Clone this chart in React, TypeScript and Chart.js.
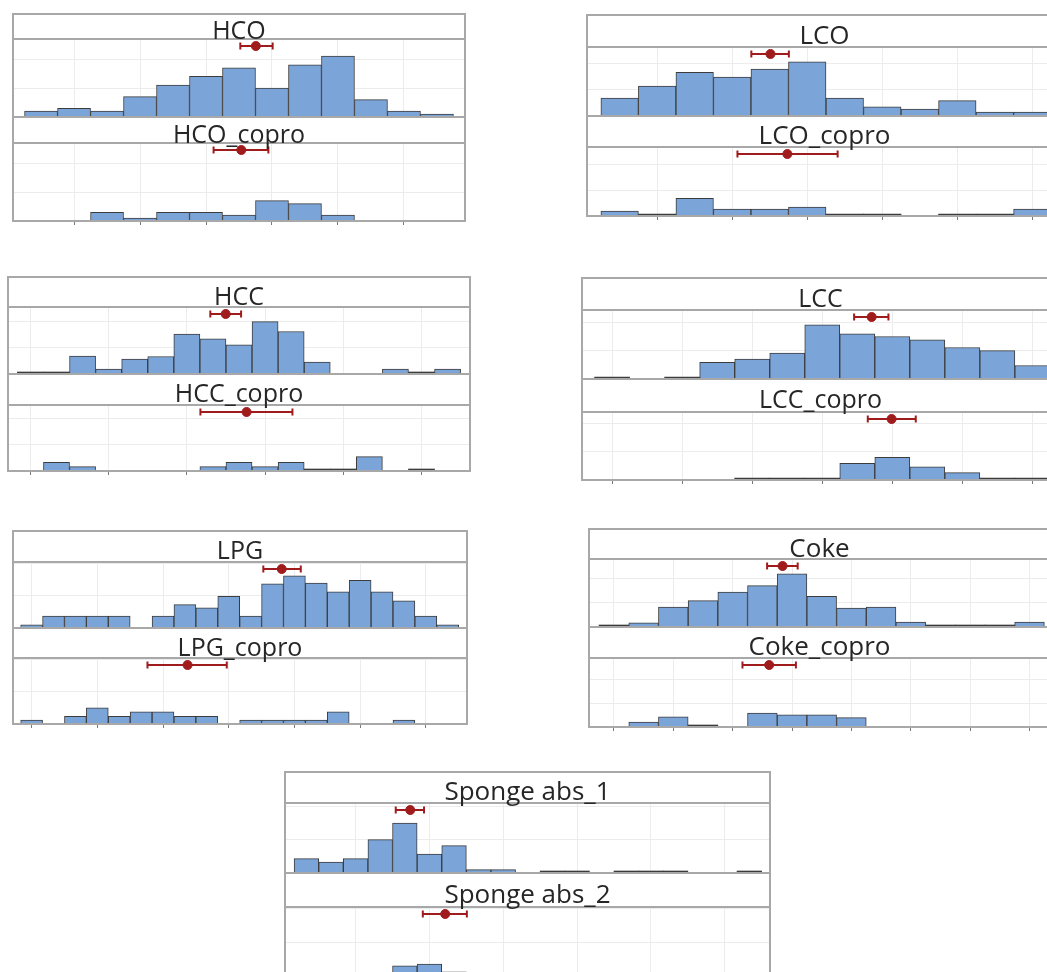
import React, { useEffect, useRef } from 'react';
import { Chart, registerables } from 'chart.js';

Chart.register(...registerables);

// ---------------- data (bin centres are consecutive integers from *Start) ----------------
const hcoStart = -1;
const hcoCounts = [2, 3, 2, 7, 11, 14, 17, 10, 18, 21, 6, 2, 1];
const hcoCoproCounts = [null, null, 3, 1, 3, 3, 2, 7, 6, 2, null, null, null];
const hcoCI = [5.04, 5.51, 6.02];
const hcoCoproCI = [4.23, 5.07, 5.89];
const hcoTicks = [0, 2, 4, 6, 8, 10];

const lcoStart = -1;
const lcoCounts = [6.9, 11.5, 16.8, 14.9, 18, 20.8, 6.9, 3.5, 2.7, 5.9, 1.5, 1.5];
const lcoCoproCounts = [1.9, 0, 6.8, 2.7, 2.7, 3.5, 0, 0, null, 0, 0, 2.7];
const lcoCI = [2.51, 3.02, 3.51];
const lcoCoproCI = [2.14, 3.47, 4.81];
const lcoTicks = [0, 2, 4, 6, 8, 10];

const hccStart = 0;
const hccCounts = [0, 0, 6.9, 1.9, 5.7, 6.7, 15.3, 13.5, 11.2, 20.1, 16.3, 4.6, null, null, 1.9, 0, 1.9];
const hccCoproCounts = [null, 3.3, 1.7, null, null, null, null, 1.7, 3.3, 1.7, 3.3, 0, 0, 5.5, null, 0, null];
const hccCI = [6.9, 7.49, 8.08];
const hccCoproCI = [6.52, 8.29, 10.05];
const hccTicks = [0, 3, 6, 9, 12, 15];

const lccStart = 0;
const lccCounts = [0, null, 0, 5.9, 7.1, 9.2, 19.2, 16, 15.1, 13.9, 11.2, 10.1, 4.8];
const lccCoproCounts = [null, null, null, null, 0, 0, 0, 5.9, 8, 4.7, 2.6, 0, 0];
const lccCI = [6.91, 7.41, 7.89];
const lccCoproCI = [7.3, 7.98, 8.67];
const lccTicks = [0, 2, 4, 6, 8, 10, 12];

const lpgStart = 0;
const lpgCounts = [1, 3.7, 3.7, 3.7, 3.7, null, 3.7, 7.3, 6.3, 9.9, 3.7, 13.8, 16.3, 14, 11.3, 14.9, 11.3, 8.5, 3.7, 1];
const lpgCoproCounts = [1.2, null, 2.4, 5, 2.4, 3.75, 3.75, 2.4, 2.4, null, 1.2, 1.2, 1.2, 1.2, 3.75, null, null, 1.2, null, null];
const lpgCI = [10.58, 11.42, 12.29];
const lpgCoproCI = [5.29, 7.12, 8.91];
const lpgTicks = [0, 3, 6, 9, 12, 15, 18];

const cokeStart = 0;
const cokeCounts = [0, 1.7, 8.3, 11, 14.5, 17.2, 22.1, 12.8, 7.9, 8.3, 2, 0, 0, 0, 2];
const cokeCoproCounts = [null, 2.1, 4.2, 0, null, 5.8, 5.1, 5.1, 3.9];
const cokeCI = [5.16, 5.68, 6.19];
const cokeCoproCI = [4.33, 5.23, 6.13];
const cokeTicks = [0, 2, 4, 6, 8, 10, 12, 14];

const spongeStart = -2;
const sponge1Counts = [4.3, 3.3, 4.3, 10, 15, 5.7, 8.2, 1, 1, null, 0, 0, null, 0, 0, 0, null, null, 0];
const sponge2Counts = [null, null, null, 1.2, 3.3, 3.8, 1.5, 1.2, 1.2, 1.2];
const sponge1CI = [1.63, 2.22, 2.78];
const sponge2CI = [2.73, 3.64, 4.52];
const spongeTicks = [0, 3, 6, 9, 12, 15];

const gridStep = 10;

// ---------------- styles ----------------
const RED = '#a01b1b';
const BLUE = '#7ba4d9';
const EDGE = '#3c3c3c';
const GRID = '#ececec';
const FRAME = '#a8a8a8';
const TEXT = '#262626';
const FONT = '"Open Sans", "Noto Sans", sans-serif';
const CI_OFFSET_PX = 7;
const TICK_LEN = 4;

type Sub = { title: string; start: number; counts: (number | null)[]; ci: number[]; yMax: number };
type PanelDef = {
  left: number; top: number; width: number;
  h1: number; p1: number; h2: number; p2: number;
  xMin: number; xMax: number; ticks: number[];
  font: number;
  a: Sub; b: Sub;
};

const panels: PanelDef[] = [
  {
    left: 13, top: 14, width: 452, h1: 25, p1: 78, h2: 26, p2: 78, xMin: -1.85, xMax: 11.85, ticks: hcoTicks, font: 25,
    a: { title: 'HCO', start: hcoStart, counts: hcoCounts, ci: hcoCI, yMax: 26.9 },
    b: { title: 'HCO_copro', start: hcoStart, counts: hcoCoproCounts, ci: hcoCoproCI, yMax: 26.9 },
  },
  {
    left: 587, top: 15, width: 475, h1: 32, p1: 69, h2: 31, p2: 69, xMin: -1.87, xMax: 10.79, ticks: lcoTicks, font: 26,
    a: { title: 'LCO', start: lcoStart, counts: lcoCounts, ci: lcoCI, yMax: 26.5 },
    b: { title: 'LCO_copro', start: lcoStart, counts: lcoCoproCounts, ci: lcoCoproCI, yMax: 26.7 },
  },
  {
    left: 8, top: 277, width: 462, h1: 30, p1: 67, h2: 31, p2: 66, xMin: -0.86, xMax: 16.86, ticks: hccTicks, font: 25,
    a: { title: 'HCC', start: hccStart, counts: hccCounts, ci: hccCI, yMax: 25.7 },
    b: { title: 'HCC_copro', start: hccStart, counts: hccCoproCounts, ci: hccCoproCI, yMax: 25.3 },
  },
  {
    left: 582, top: 278, width: 477, h1: 32, p1: 69, h2: 33, p2: 68, xMin: -0.86, xMax: 12.76, ticks: lccTicks, font: 25,
    a: { title: 'LCC', start: lccStart, counts: lccCounts, ci: lccCI, yMax: 24.5 },
    b: { title: 'LCC_copro', start: lccStart, counts: lccCoproCounts, ci: lccCoproCI, yMax: 24.1 },
  },
  {
    left: 13, top: 531, width: 454, h1: 31, p1: 66, h2: 30, p2: 66, xMin: -0.85, xMax: 19.88, ticks: lpgTicks, font: 25,
    a: { title: 'LPG', start: lpgStart, counts: lpgCounts, ci: lpgCI, yMax: 20.6 },
    b: { title: 'LPG_copro', start: lpgStart, counts: lpgCoproCounts, ci: lpgCoproCI, yMax: 20.4 },
  },
  {
    left: 589, top: 529, width: 461, h1: 30, p1: 68, h2: 31, p2: 69, xMin: -0.84, xMax: 14.69, ticks: cokeTicks, font: 26,
    a: { title: 'Coke', start: cokeStart, counts: cokeCounts, ci: cokeCI, yMax: 28.3 },
    b: { title: 'Coke_copro', start: cokeStart, counts: cokeCoproCounts, ci: cokeCoproCI, yMax: 28.75 },
  },
  {
    left: 285, top: 772, width: 485, h1: 31, p1: 70, h2: 34, p2: 70, xMin: -2.87, xMax: 16.84, ticks: spongeTicks, font: 26,
    a: { title: 'Sponge abs_1', start: spongeStart, counts: sponge1Counts, ci: sponge1CI, yMax: 21 },
    b: { title: 'Sponge abs_2', start: spongeStart, counts: sponge2Counts, ci: sponge2CI, yMax: 20.5 },
  },
];

type PlotProps = {
  x: number; y: number; w: number; h: number; tick: number;
  sub: Sub; xMin: number; xMax: number; ticks: number[];
};

function HistPlot({ x, y, w, h, tick, sub, xMin, xMax, ticks }: PlotProps) {
  const ref = useRef<HTMLCanvasElement | null>(null);
  useEffect(() => {
    const canvas = ref.current;
    if (!canvas) return;
    const ciY = sub.yMax * (1 - CI_OFFSET_PX / h);
    const bars = sub.counts
      .map((v, i) => ({ x: sub.start + i, y: v }))
      .filter((p) => p.y !== null);
    const yTicks: number[] = [];
    for (let v = gridStep; v < sub.yMax; v += gridStep) yTicks.push(v);
    const isZero = (ctx: any) => ctx.raw && ctx.raw.y === 0;
    const chart = new Chart(canvas, {
      type: 'bar',
      data: {
        datasets: [
          {
            type: 'line',
            data: sub.ci.map((v) => ({ x: v, y: ciY })),
            borderColor: RED,
            borderWidth: 2,
            pointStyle: ['line', 'circle', 'line'],
            pointRotation: [90, 0, 90],
            pointRadius: [3.5, 4.5, 3.5],
            pointBackgroundColor: RED,
            pointBorderColor: RED,
            pointBorderWidth: [2, 1, 2],
            fill: false,
            tension: 0,
          } as any,
          {
            type: 'bar',
            data: bars as any,
            backgroundColor: (ctx: any) => (isZero(ctx) ? EDGE : BLUE),
            borderColor: EDGE,
            borderWidth: (ctx: any) => (isZero(ctx) ? 0 : 1),
            barPercentage: 1,
            categoryPercentage: 1,
            minBarLength: 2,
          } as any,
        ],
      },
      options: {
        animation: false,
        responsive: false,
        devicePixelRatio: 1,
        events: [],
        layout: { padding: 0, autoPadding: false },
        plugins: { legend: { display: false }, tooltip: { enabled: false }, title: { display: false } },
        scales: {
          x: {
            type: 'linear',
            min: xMin,
            max: xMax,
            offset: false,
            grid: { offset: false, color: GRID, drawTicks: tick > 0, tickLength: tick, tickColor: '#7a7a7a', tickWidth: 1 },
            border: { display: false },
            ticks: { display: false },
            afterBuildTicks: (axis: any) => {
              axis.ticks = ticks.map((v) => ({ value: v }));
            },
          },
          y: {
            type: 'linear',
            min: 0,
            max: sub.yMax,
            grid: { color: GRID, drawTicks: false },
            border: { display: false },
            ticks: { display: false },
            afterBuildTicks: (axis: any) => {
              axis.ticks = yTicks.map((v) => ({ value: v }));
            },
          },
        } as any,
      } as any,
    });
    return () => chart.destroy();
  }, []);
  return (
    <canvas
      ref={ref}
      width={w}
      height={h + tick}
      style={{ position: 'absolute', left: x, top: y, width: w, height: h + tick, display: 'block' }}
    />
  );
}

function Line({ left, top, width }: { left: number; top: number; width: number }) {
  return <div style={{ position: 'absolute', left, top: top - 1, width, height: 2, background: FRAME, zIndex: 3 }} />;
}

function Title({ text, top, height, size }: { text: string; top: number; height: number; size: number }) {
  return (
    <div
      style={{
        position: 'absolute', left: 0, width: '100%', top: top + 3, height, lineHeight: `${height}px`,
        textAlign: 'center', fontFamily: FONT, fontSize: size, color: TEXT, whiteSpace: 'nowrap', zIndex: 4,
      }}
    >
      {text}
    </div>
  );
}

function Panel({ d }: { d: PanelDef }) {
  const y1 = d.h1;
  const y2 = d.h1 + d.p1;
  const y3 = y2 + d.h2;
  const total = y3 + d.p2;
  return (
    <div style={{ position: 'absolute', left: d.left, top: d.top, width: d.width, height: total }}>
      <HistPlot x={0} y={y1} w={d.width} h={d.p1} tick={0} sub={d.a} xMin={d.xMin} xMax={d.xMax} ticks={d.ticks} />
      <HistPlot x={0} y={y3} w={d.width} h={d.p2} tick={TICK_LEN} sub={d.b} xMin={d.xMin} xMax={d.xMax} ticks={d.ticks} />
      <Title text={d.a.title} top={0} height={d.h1} size={d.font} />
      <Title text={d.b.title} top={y2} height={d.h2} size={d.font} />
      <Line left={0} top={0} width={d.width} />
      <Line left={0} top={y1} width={d.width} />
      <Line left={0} top={y2} width={d.width} />
      <Line left={0} top={y3} width={d.width} />
      <Line left={0} top={total} width={d.width} />
      <div style={{ position: 'absolute', left: -1, top: -1, width: 2, height: total + 2, background: FRAME, zIndex: 3 }} />
      <div style={{ position: 'absolute', left: d.width - 1, top: -1, width: 2, height: total + 2, background: FRAME, zIndex: 3 }} />
    </div>
  );
}

export default function App() {
  return (
    <div style={{ position: 'fixed', left: 0, top: 0, width: 1047, height: 972, overflow: 'hidden', background: '#ffffff' }}>
      {panels.map((d, i) => (
        <Panel key={i} d={d} />
      ))}
    </div>
  );
}
